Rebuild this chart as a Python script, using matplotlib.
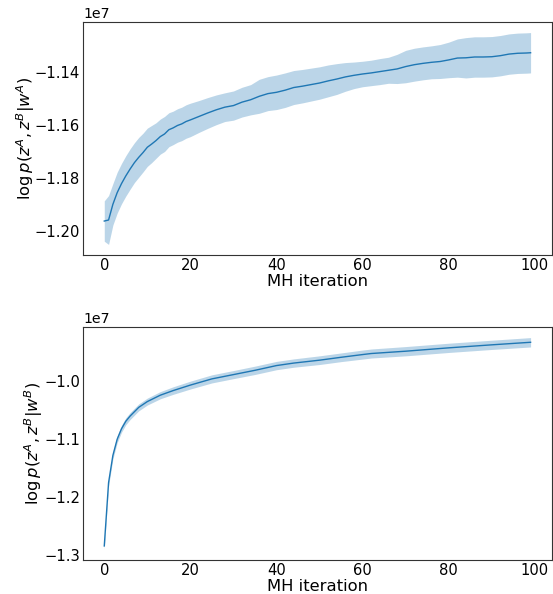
import numpy as np
import matplotlib
matplotlib.use('Agg')
import matplotlib.pyplot as plt

# MH chain log-likelihood, mean +/- spread (units of 1e7)
iters_a = [0, 1, 2, 3, 4, 5, 6, 7, 8, 9, 10, 11, 12, 13, 14, 15, 16, 17, 18, 19, 20,
           22, 24, 26, 28, 30, 32, 34, 36, 38, 40, 42, 44, 46, 48, 50, 52, 54, 56, 58,
           60, 62, 64, 66, 68, 70, 72, 74, 76, 78, 80, 82, 84, 86, 88, 90, 92, 94, 96, 98, 99]
mean_a = [-1.1962, -1.1958, -1.1899, -1.1855, -1.1821, -1.1792, -1.1766, -1.1742, -1.1722, -1.1704,
          -1.1684, -1.1672, -1.1659, -1.1644, -1.1634, -1.1618, -1.1611, -1.1602, -1.1596, -1.1587,
          -1.1581, -1.1568, -1.1555, -1.1543, -1.1533, -1.1527, -1.1514, -1.1505, -1.1492, -1.1482,
          -1.1477, -1.1469, -1.1459, -1.1454, -1.1448, -1.1442, -1.1434, -1.1427, -1.1419, -1.1413,
          -1.1408, -1.1404, -1.1399, -1.1394, -1.1389, -1.1380, -1.1373, -1.1368, -1.1364, -1.1361,
          -1.1355, -1.1348, -1.1347, -1.1344, -1.1344, -1.1343, -1.1339, -1.1333, -1.1330, -1.1329,
          -1.1328]
spread_a = [0.0076, 0.0092, 0.0078, 0.0077, 0.0076, 0.0076, 0.0076, 0.0075, 0.0075, 0.0073,
            0.0072, 0.0070, 0.0067, 0.0066, 0.0066, 0.0064, 0.0063, 0.0063, 0.0063, 0.0063,
            0.0063, 0.0060, 0.0058, 0.0056, 0.0054, 0.0055, 0.0056, 0.0057, 0.0064, 0.0064,
            0.0065, 0.0065, 0.0064, 0.0063, 0.0062, 0.0061, 0.0060, 0.0058, 0.0054, 0.0050,
            0.0048, 0.0048, 0.0049, 0.0049, 0.0055, 0.0061, 0.0062, 0.0062, 0.0062, 0.0064,
            0.0067, 0.0072, 0.0076, 0.0076, 0.0076, 0.0076, 0.0076, 0.0076, 0.0076, 0.0076,
            0.0076]

iters_b = [0, 1, 2, 3, 4, 5, 6, 8, 10, 13, 16, 20, 25, 30, 35, 40, 44, 50, 55, 60,
           62, 70, 80, 90, 99]
mean_b = [-1.2843, -1.175, -1.128, -1.100, -1.082, -1.069, -1.060, -1.045, -1.035, -1.024,
          -1.016, -1.0065, -0.9958, -0.9884, -0.981, -0.9728, -0.9685, -0.9635, -0.9585, -0.9538,
          -0.952, -0.948, -0.9422, -0.937, -0.9326]
spread_b = [0.006, 0.006, 0.006, 0.006, 0.006, 0.006, 0.006, 0.006, 0.006, 0.0062,
            0.0065, 0.0068, 0.007, 0.007, 0.0072, 0.0072, 0.0072, 0.0075, 0.0075, 0.0078,
            0.0078, 0.008, 0.008, 0.008, 0.0081]

xticks = [0, 20, 40, 60, 80, 100]
yticks_a = [-1.20, -1.18, -1.16, -1.14]
yticks_b = [-1.3, -1.2, -1.1, -1.0]
scale = 1e7

fig = plt.figure(figsize=(5.53, 5.94), dpi=100)
ax1 = fig.add_axes([0.150, 0.5707, 0.848, 0.3923])
ax2 = fig.add_axes([0.150, 0.0572, 0.848, 0.3923])

panels = [
    (ax1, iters_a, mean_a, spread_a, yticks_a, r'$\log p(z^A, z^B|w^A)$', -0.099),
    (ax2, iters_b, mean_b, spread_b, yticks_b, r'$\log p(z^A, z^B|w^B)$', -0.081),
]
for ax, x, m, s, yt, lab, lx in panels:
    x = np.array(x)
    m = np.array(m) * scale
    s = np.array(s) * scale
    ax.plot(x, m, color='C0', lw=1)
    ax.fill_between(x, m - s, m + s, color='C0', alpha=0.3, lw=0)
    ax.set_xticks(xticks)
    ax.set_yticks(np.array(yt) * scale)
    ax.tick_params(length=0, pad=2, labelsize=10.6)
    ax.yaxis.get_offset_text().set_fontsize(10.2)
    ax.set_xlabel('MH iteration', fontsize=11.8, labelpad=1)
    ax.set_ylabel(lab, fontsize=11.8)
    ax.yaxis.set_label_coords(lx, 0.5)
    for sp in ax.spines.values():
        sp.set_color('#333333')

fig.savefig('out.png', dpi=100)
